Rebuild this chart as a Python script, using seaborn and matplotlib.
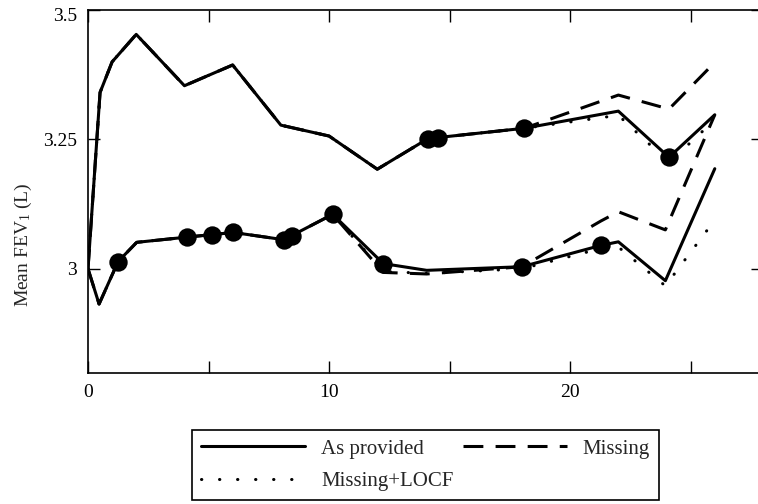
import numpy as np
import pandas as pd
import seaborn as sns
import matplotlib
matplotlib.use('Agg')
import matplotlib.pyplot as plt
import matplotlib.transforms as mtransforms
from matplotlib.lines import Line2D

sns.set_style('ticks')
plt.rcParams['font.family'] = ['Liberation Serif', 'DejaVu Serif']
plt.rcParams['mathtext.fontset'] = 'custom'
plt.rcParams['mathtext.rm'] = 'Liberation Serif'
plt.rcParams['mathtext.it'] = 'Liberation Serif:italic'

# upper group
upper_time = [0, 0.5, 1, 2, 4, 6, 8, 10, 12, 14.1, 14.5, 18.1, 22, 24.1, 26]
upper_provided = [3.00, 3.34, 3.399, 3.452, 3.353, 3.393, 3.277, 3.256, 3.192,
                  3.251, 3.253, 3.271, 3.304, 3.215, 3.297]
upper_missing = [3.00, 3.34, 3.399, 3.452, 3.353, 3.393, 3.277, 3.256, 3.192,
                 3.251, 3.253, 3.271, 3.335, 3.308, 3.398]
upper_locf = [3.00, 3.34, 3.399, 3.452, 3.353, 3.393, 3.277, 3.256, 3.192,
              3.251, 3.253, 3.271, 3.296, 3.205, 3.287]

# lower group
lower_time = [0, 0.46, 1.25, 2.02, 4.09, 5.16, 6.03, 8.13, 8.45, 10.15, 12.25,
              14.05, 18.0, 21.27, 22.0, 23.95, 26.0]
lower_provided = [3.00, 2.932, 3.014, 3.051, 3.061, 3.066, 3.070, 3.056, 3.064,
                  3.105, 3.010, 2.997, 3.004, 3.045, 3.052, 2.977, 3.193]
lower_missing = [3.00, 2.932, 3.014, 3.051, 3.061, 3.066, 3.070, 3.056, 3.064,
                 3.105, 2.993, 2.990, 3.004, 3.092, 3.110, 3.075, 3.297]
lower_locf = [3.00, 2.932, 3.014, 3.051, 3.061, 3.066, 3.070, 3.056, 3.064,
              3.105, 2.995, 2.991, 3.000, 3.039, 3.042, 2.967, 3.094]

# filled circles on the "as provided" curves
dot_time = [14.1, 14.5, 18.1, 24.1, 1.25, 4.09, 5.16, 6.03, 8.13, 8.45, 10.15,
            12.25, 18.0, 21.27]
dot_value = [3.251, 3.253, 3.271, 3.215, 3.014, 3.061, 3.066, 3.070, 3.056,
             3.064, 3.105, 3.010, 3.004, 3.045]

x_ticks = [0, 5, 10, 15, 20, 25]
x_tick_labels = ['0', '', '10', '', '20', '']
y_ticks = [3, 3.25, 3.5]
y_tick_labels = ['3', '3.25', '3.5']

LW = 2.2
styles = {
    'As provided': dict(linestyle='-'),
    'Missing': dict(linestyle=(0, (6.5, 4))),
    'Missing+LOCF': dict(linestyle=(0, (0.1, 5.8)), dash_capstyle='round'),
}

fig = plt.figure(figsize=(7.58, 5.04), dpi=100)
ax = fig.add_axes([88 / 758, 1 - 372.5 / 504, (763 - 88) / 758, (372.5 - 9.5) / 504])

groups = [
    (upper_time, upper_provided, upper_missing, upper_locf),
    (lower_time, lower_provided, lower_missing, lower_locf),
]
for t, prov, miss, locf in groups:
    df = pd.DataFrame({'time': t, 'As provided': prov, 'Missing': miss,
                       'Missing+LOCF': locf})
    # dashed and dotted first so the solid curve sits on top
    for i, name in enumerate(['Missing', 'Missing+LOCF', 'As provided']):
        sns.lineplot(data=df, x='time', y=name, ax=ax, color='k', lw=LW,
                     estimator=None, sort=False, zorder=2 + i, **styles[name])

sns.scatterplot(x=dot_time, y=dot_value, ax=ax, color='k', s=175,
                linewidth=0, zorder=6)

ax.set_xlim(0, 28)
ax.set_ylim(2.8, 3.5)
ax.set_xticks(x_ticks)
ax.set_xticklabels(x_tick_labels)
ax.set_yticks(y_ticks)
ax.set_yticklabels(y_tick_labels)
ax.tick_params(direction='in', length=8.5, width=1, top=True, right=True,
               labelsize=14, pad=8, colors='k')
for sp in ax.spines.values():
    sp.set_linewidth(1.2)
    sp.set_color('k')

# nudge the top label down a little so it is not cut off
top_lab = ax.get_yticklabels()[-1]
top_lab.set_transform(top_lab.get_transform() +
                      mtransforms.ScaledTranslation(0, -5 / 100, fig.dpi_scale_trans))

ax.set_xlabel('')
ax.set_ylabel('Mean FEV$_1$ (L)', fontsize=14)
ax.yaxis.set_label_coords(-0.08, 0.351)

handles = [Line2D([], [], color='k', lw=LW, **styles[n])
           for n in ['As provided', 'Missing+LOCF', 'Missing']]
leg = fig.legend(handles, ['As provided', 'Missing+LOCF', 'Missing'], ncol=2,
                 loc='center', bbox_to_anchor=(425.5 / 758, 1 - 465 / 504),
                 frameon=True, fancybox=False, edgecolor='k', framealpha=1,
                 fontsize=15, handlelength=5.0, handletextpad=0.75,
                 columnspacing=0.45, borderpad=0.45, labelspacing=0.6)
leg.get_frame().set_linewidth(1.2)

fig.savefig('out.png', dpi=100)
